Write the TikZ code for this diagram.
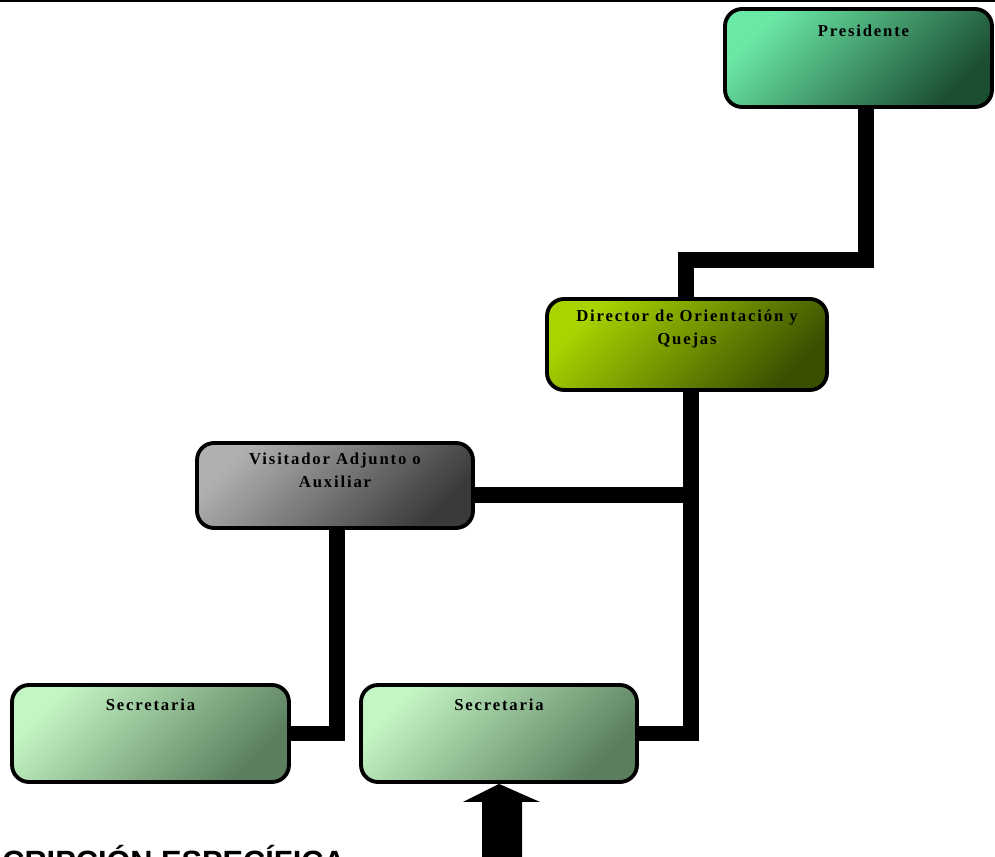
\documentclass[tikz,border=0pt]{standalone}
\usepackage{fontspec}
\setmainfont{Liberation Serif}
\newfontfamily\headfont{Liberation Sans}
\newfontfamily\boxfont[LetterSpace=11]{Liberation Serif}
\usetikzlibrary{calc}

\definecolor{presA}{HTML}{6AE8A6}
\definecolor{presB}{HTML}{1C4E32}
\definecolor{dirA}{HTML}{AAD400}
\definecolor{dirB}{HTML}{3A5000}
\definecolor{visA}{HTML}{B0B0B0}
\definecolor{visB}{HTML}{3A3A3A}
\definecolor{secA}{HTML}{C4F5C4}
\definecolor{secB}{HTML}{5A7E5E}

\begin{document}
\begin{tikzpicture}[x=0.02cm,y=-0.02cm,
  box/.style={draw=black, line width=2.2pt, rounded corners=0.34cm, inner sep=0pt},
  grad/.style 2 args={top color=#1, bottom color=#2, shading angle=45},
  lbl/.style={font=\boxfont\bfseries\fontsize{9.5}{13.5}\selectfont, align=center,
              inner sep=0pt, anchor=north},
  link/.style={line width=9pt, line join=miter, line cap=butt}]
\useasboundingbox (0,0) rectangle (995,857);

% rule across the top of the page
\draw[line width=1.3pt] (0,1) -- (995,1);

% boxes
\node[box, grad={presA}{presB}, minimum width=5.34cm, minimum height=1.96cm] (pres) at (858.5,58) {};
\node[box, grad={dirA}{dirB},   minimum width=5.6cm,  minimum height=1.82cm] (dir)  at (687,344.5) {};
\node[box, grad={visA}{visB},   minimum width=5.52cm, minimum height=1.7cm]  (vis)  at (335,485.5) {};
\node[box, grad={secA}{secB},   minimum width=5.54cm, minimum height=1.94cm] (sec1) at (150.5,733.5) {};
\node[box, grad={secA}{secB},   minimum width=5.52cm, minimum height=1.94cm] (sec2) at (499,733.5) {};

% labels
\node[lbl] (presT) at ($(pres.north)+(5,17)$) {Presidente};
\node[lbl] (dirT)  at ($(dir.north)+(0,12)$)  {Director de Orientación y\\Quejas};
\node[lbl] (visT)  at ($(vis.north)+(0,11)$)  {Visitador Adjunto o\\Auxiliar};
\node[lbl] (sec1T) at ($(sec1.north)+(0,15)$) {Secretaria};
\node[lbl] (sec2T) at ($(sec2.north)+(0,15)$) {Secretaria};

% connectors
\draw[link] (pres.south -| 866,0) -- (866,260) -| (dir.north -| 686,0);
\draw[link] (dir.south -| 691,0) |- (sec2.east);
\draw[link] (vis.east |- 0,495) -- (691,495);
\draw[link] (vis.south -| 337,0) |- (sec1.east);

% block arrow pointing up to the second Secretaria
\fill[black] (sec2.south) -- (540,802) -- (522,802) -- (522,860) -- (482,860)
  -- (482,802) -- (463,802) -- cycle;

% heading, cut by the bottom edge
\node[font=\headfont\bfseries\fontsize{17.5}{17.5}\selectfont, anchor=base west,
      inner sep=0pt] (head) at (2,873) {CRIPCIÓN ESPECÍFICA};
\end{tikzpicture}
\end{document}
